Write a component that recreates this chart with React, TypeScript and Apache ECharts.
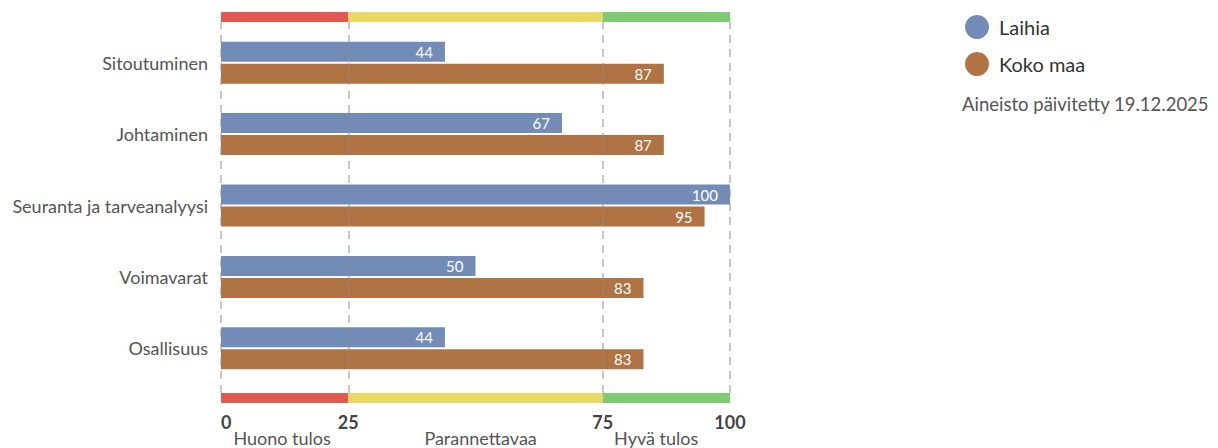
import React, { useEffect, useRef } from "react";
import * as echarts from "echarts";

const categories = ["Sitoutuminen", "Johtaminen", "Seuranta ja tarveanalyysi", "Voimavarat", "Osallisuus"];
const laihia = [44, 67, 100, 50, 44];
const kokoMaa = [87, 87, 95, 83, 83];
const seriesNames = ["Laihia", "Koko maa"];
const zoneWidths = [25, 50, 25];
const zoneNames = ["Huono tulos", "Parannettavaa", "Hyvä tulos"];
const zoneLabelAt = [12, 51, 85.5];
const tickValues = [0, 25, 75, 100];
const updated = "Aineisto päivitetty 19.12.2025";

const FONT = "Lato";
const zoneColors = ["#e05a52", "#ead865", "#7ecb74"];
const BLUE = "#728cb7";
const BROWN = "#b07343";

export default function App() {
  const ref = useRef<HTMLDivElement>(null);
  useEffect(() => {
    const chart = echarts.init(ref.current!, null, { renderer: "svg" });
    const L = 213, W = 509;
    const bandSeries = (gi: number) =>
      zoneWidths.map((w, i) => ({
        type: "bar",
        xAxisIndex: gi,
        yAxisIndex: gi,
        stack: "zones" + gi,
        data: [w],
        barWidth: "100%",
        silent: true,
        itemStyle: { color: zoneColors[i] },
      }));
    chart.setOption({
      animation: false,
      textStyle: { fontFamily: FONT },
      title: {
        text: updated,
        left: 949,
        top: 81,
        textStyle: { fontSize: 18.5, fontWeight: "normal", color: "#555", fontFamily: FONT },
      },
      legend: {
        data: seriesNames,
        orient: "vertical",
        left: 952,
        top: 2,
        icon: "circle",
        itemWidth: 24,
        itemHeight: 24,
        itemGap: 13,
        textStyle: { fontSize: 20, color: "#333", fontFamily: FONT, padding: [0, 0, 0, 5] },
      },
      grid: [
        { left: L, width: W, top: 4, height: 10 },
        { left: L, width: W, top: 19, height: 357 },
        { left: L, width: W, top: 14, height: 371 },
        { left: L, width: W, top: 385, height: 10 },
      ],
      xAxis: [
        { gridIndex: 0, type: "value", min: 0, max: 100, show: false },
        { gridIndex: 1, type: "value", min: 0, max: 100, show: false },
        { gridIndex: 2, type: "value", min: 0, max: 100, show: false },
        {
          gridIndex: 3,
          type: "value",
          min: 0,
          max: 100,
          position: "bottom",
          axisLine: { show: false },
          axisTick: { show: false },
          splitLine: { show: false },
          axisLabel: {
            customValues: tickValues,
            alignMinLabel: "left",
            margin: 10,
            fontSize: 18,
            fontWeight: "bold",
            color: "#444",
            fontFamily: FONT,
          },
        },
        {
          gridIndex: 3,
          type: "value",
          min: 0,
          max: 100,
          position: "bottom",
          offset: 16,
          axisLine: { show: false },
          axisTick: { show: false },
          splitLine: { show: false },
          axisLabel: {
            customValues: zoneLabelAt,
            formatter: (v: number) => zoneNames[zoneLabelAt.indexOf(v)] ?? "",
            margin: 10,
            fontSize: 18,
            color: "#555",
            fontFamily: FONT,
          },
        },
      ],
      yAxis: [
        { gridIndex: 0, type: "category", data: ["z"], show: false },
        {
          gridIndex: 1,
          type: "category",
          data: categories,
          inverse: true,
          axisLine: { show: false },
          axisTick: { show: false },
          axisLabel: { fontSize: 18, color: "#555", margin: 13, fontFamily: FONT },
        },
        { gridIndex: 2, type: "value", show: false },
        { gridIndex: 3, type: "category", data: ["z"], show: false },
      ],
      series: [
        ...bandSeries(0),
        ...bandSeries(3),
        {
          name: seriesNames[0],
          type: "bar",
          xAxisIndex: 1,
          yAxisIndex: 1,
          data: laihia,
          barWidth: 20,
          barGap: "10%",
          itemStyle: { color: BLUE },
          label: { show: true, position: "insideRight", distance: 12, color: "#fff", fontSize: 15, fontFamily: FONT },
        },
        {
          name: seriesNames[1],
          type: "bar",
          xAxisIndex: 1,
          yAxisIndex: 1,
          data: kokoMaa,
          barWidth: 20,
          barGap: "10%",
          itemStyle: { color: BROWN },
          label: { show: true, position: "insideRight", distance: 12, color: "#fff", fontSize: 15, fontFamily: FONT },
        },
        {
          type: "scatter",
          xAxisIndex: 2,
          yAxisIndex: 2,
          data: [],
          z: 10,
          markLine: {
            silent: true,
            symbol: "none",
            label: { show: false },
            lineStyle: { type: [8, 6], color: "rgba(140,140,140,0.65)", width: 1.5 },
            data: tickValues.map((v) => ({ xAxis: v })),
          },
        },
      ],
    });
    return () => chart.dispose();
  }, []);
  return <div ref={ref} style={{ width: 1202, height: 440 }} />;
}
